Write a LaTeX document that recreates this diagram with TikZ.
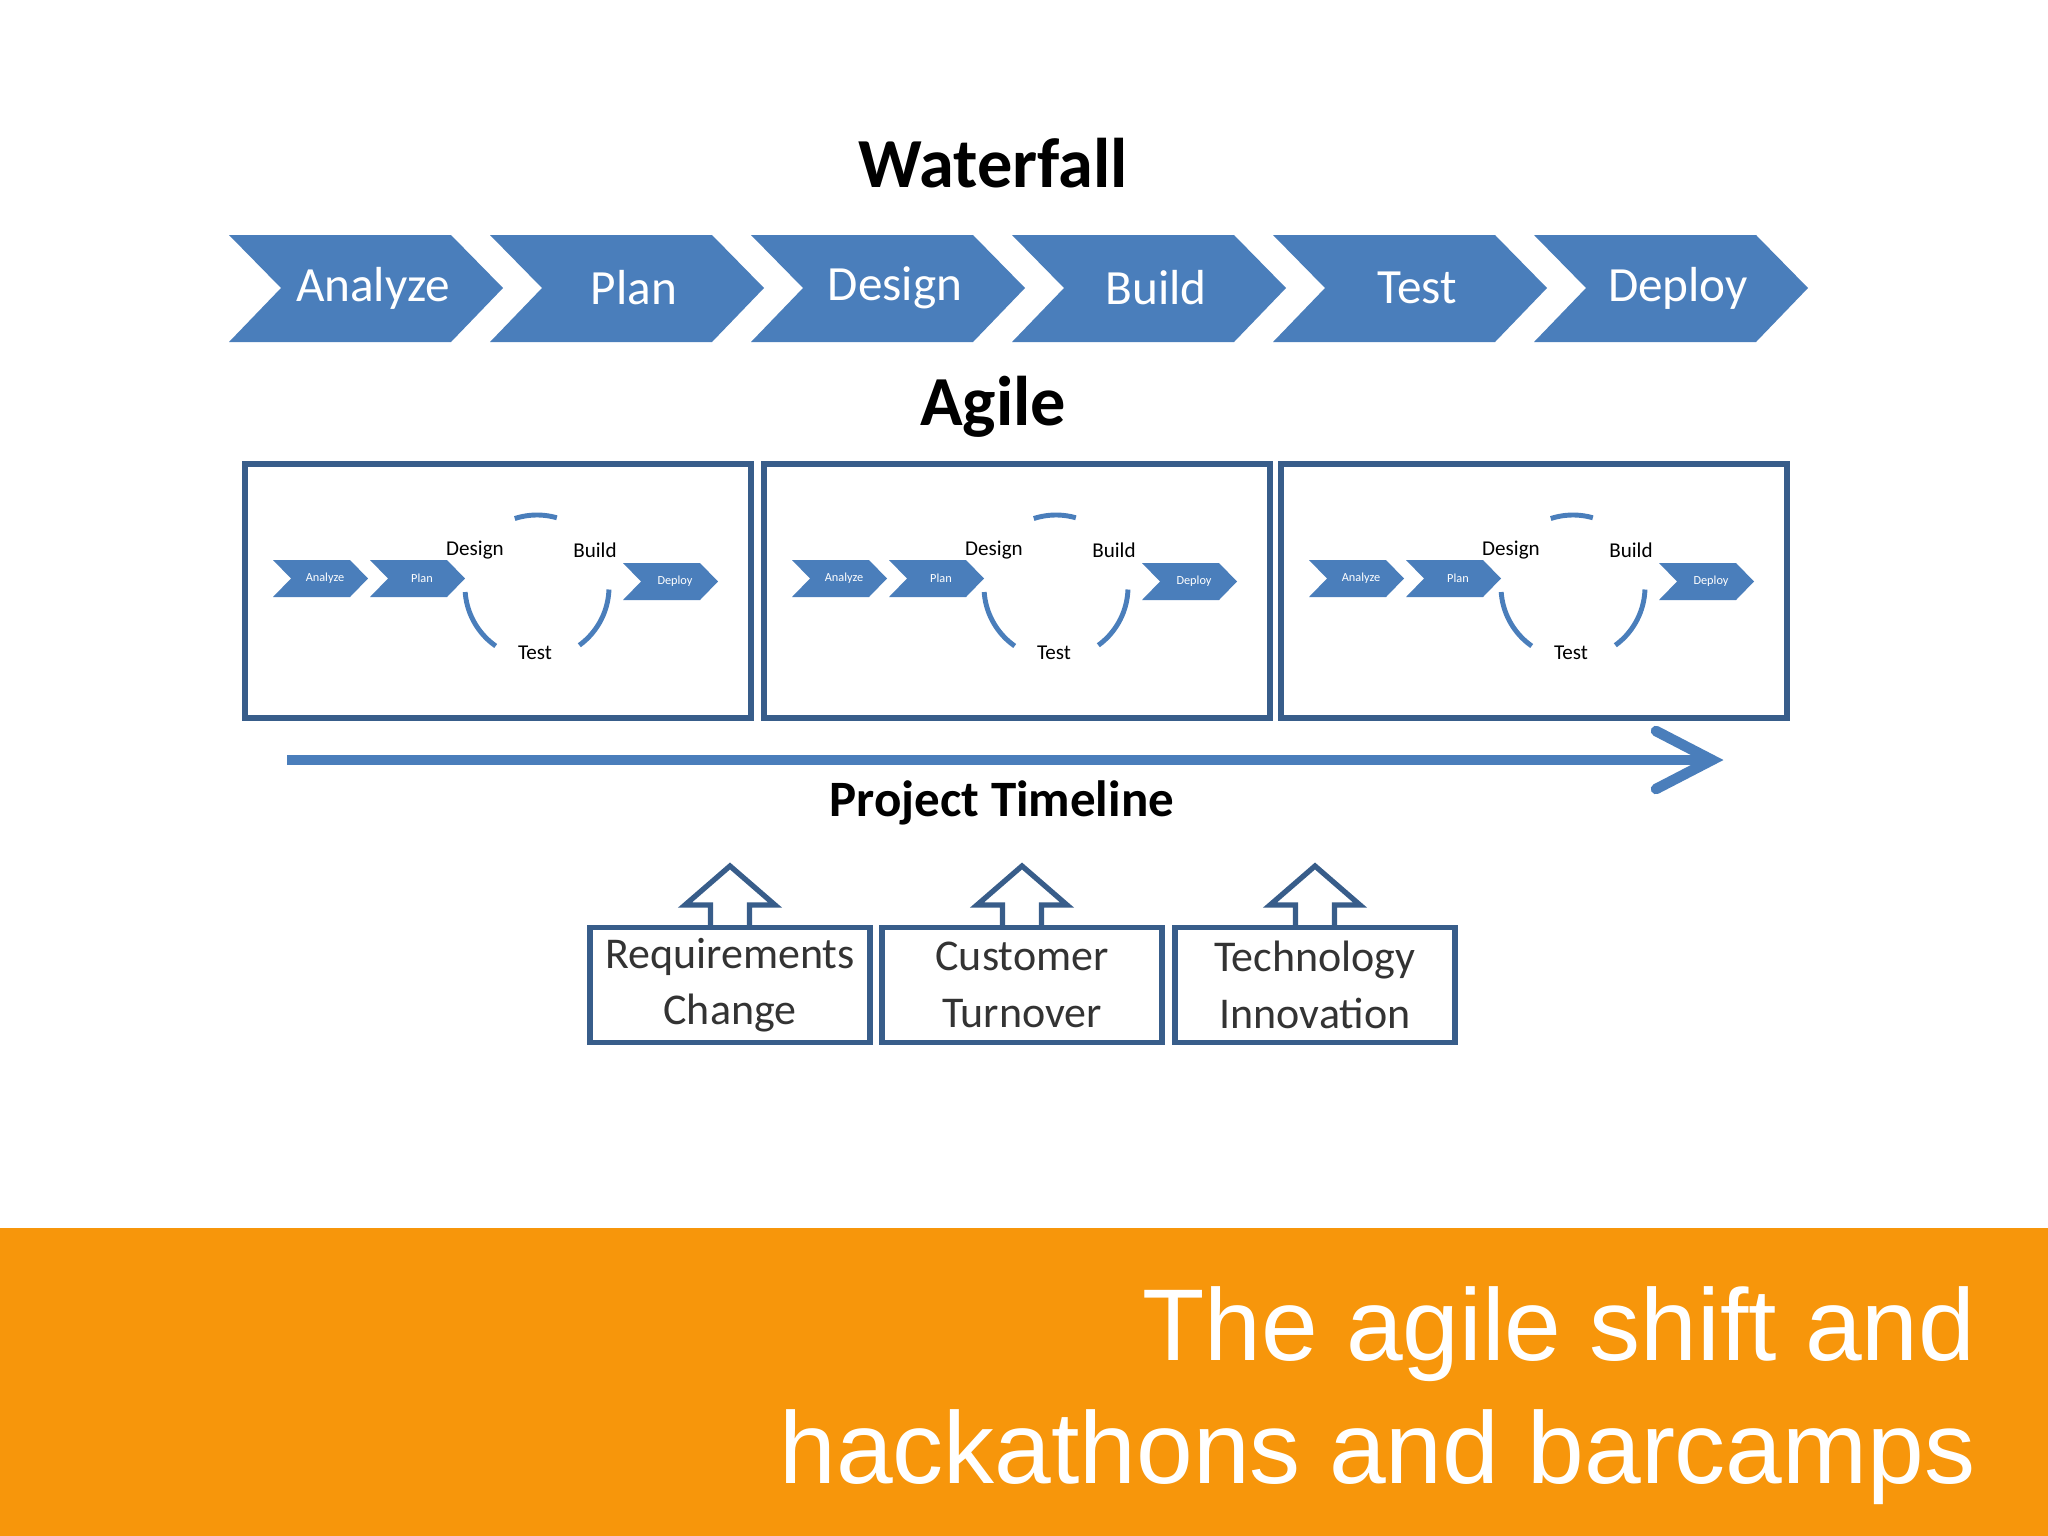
\documentclass[tikz,border=0pt]{standalone}
\usepackage{fontspec}
\usetikzlibrary{calc}
\setmainfont{Carlito}
\newfontfamily\arialf{Liberation Sans}
\definecolor{cblue}{HTML}{4A7EBB}
\definecolor{cdark}{HTML}{385D8A}
\definecolor{corange}{HTML}{F7960B}
\begin{document}
\begin{tikzpicture}[x=0.01cm,y=-0.01cm,
  chevtext/.style={text=white,font=\fontsize{14}{17}\selectfont},
  minitext/.style={text=white,font=\fontsize{3.5}{4}\selectfont},
  title/.style={font=\bfseries\fontsize{20}{24}\selectfont},
  looplabel/.style={font=\fontsize{6}{7}\selectfont},
  agilebox/.style={draw=cdark,line width=1.8pt},
  loop/.style={draw=cblue,line width=1.4pt},
  causebox/.style={draw=cdark,line width=1.5pt,fill=white,minimum width=2.8cm,minimum height=1.15cm,align=center,inner sep=0pt,text=black!80,font=\fontsize{12.5}{16}\selectfont}]
\useasboundingbox (0,0) rectangle (2048,1536);
\fill[white] (0,0) rectangle (2048,1536);
\fill[corange] (0,1228) rectangle (2048,1536);
\node[anchor=east,align=right,text=white,font=\arialf\fontsize{29}{35}\selectfont] (caption) at (1988,1396) {The agile shift and\\hackathons and barcamps};
\node[title] (wf) at (993,163) {Waterfall};
\foreach \i/\t in {0/Analyze,1/Plan,2/Design,3/Build,4/Test,5/Deploy}{
  \pgfmathsetmacro{\xo}{229+261*\i}
  \fill[cblue] (\xo,235) -- (\xo+222,235) -- (\xo+274,288) -- (\xo+222,342) -- (\xo,342) -- (\xo+52,288) -- cycle;
  \node[chevtext] (w\i) at (\xo+144,288) {\t};
}
\node[title] (ag) at (993,407) {Agile};
\foreach \b/\bx in {1/245,2/764,3/1281}{
  \draw[agilebox] (\bx,464) rectangle (\bx+506,718);
  \foreach \cx/\t/\yy in {28/Analyze/560,125/Plan/560,378/Deploy/563}{
    \fill[cblue] (\bx+\cx,\yy) -- (\bx+\cx+77,\yy) -- (\bx+\cx+95,\yy+18.5) -- (\bx+\cx+77,\yy+37) -- (\bx+\cx,\yy+37) -- (\bx+\cx+18,\yy+18.5) -- cycle;
    \node[minitext] at (\bx+\cx+52,\yy+18.5) {\t};
  }
  \coordinate (c\b) at (\bx+292,587);
  \draw[loop,shift={(c\b)}] plot[domain=-108:-74,samples=15] (\x:72);
  \draw[loop,shift={(c\b)}] plot[domain=2:54,samples=20] (\x:72);
  \draw[loop,shift={(c\b)}] plot[domain=176:125,samples=20] (\x:72);
  \node[looplabel] (d\b) at (\bx+230,550) {Design};
  \node[looplabel] (bu\b) at (\bx+350,550) {Build};
  \node[looplabel] (t\b) at (\bx+290,653) {Test};
}
\coordinate (tl0) at (287,760);
\coordinate (tl1) at (1712,760);
\draw[cblue,line width=3pt] (tl0) -- (tl1);
\draw[cblue,line width=3pt,line cap=round] ($(tl1)+(-56,-29)$) -- (tl1) -- ($(tl1)+(-56,29)$);
\node[font=\bfseries\fontsize{14.5}{18}\selectfont] (pt) at (1002,803) {Project Timeline};
\foreach \k/\cx/\t in {1/730/Requirements\\Change,2/1022/Customer\\Turnover,3/1315/Technology\\Innovation}{
  \draw[cdark,line width=1.5pt,fill=white] (\cx-19.5,929) -- (\cx-19.5,905) -- (\cx-45,905) -- (\cx,866) -- (\cx+45,905) -- (\cx+19.5,905) -- (\cx+19.5,929);
  \node[causebox] (cb\k) at (\cx,985) {\t};
}
\end{tikzpicture}
\end{document}
